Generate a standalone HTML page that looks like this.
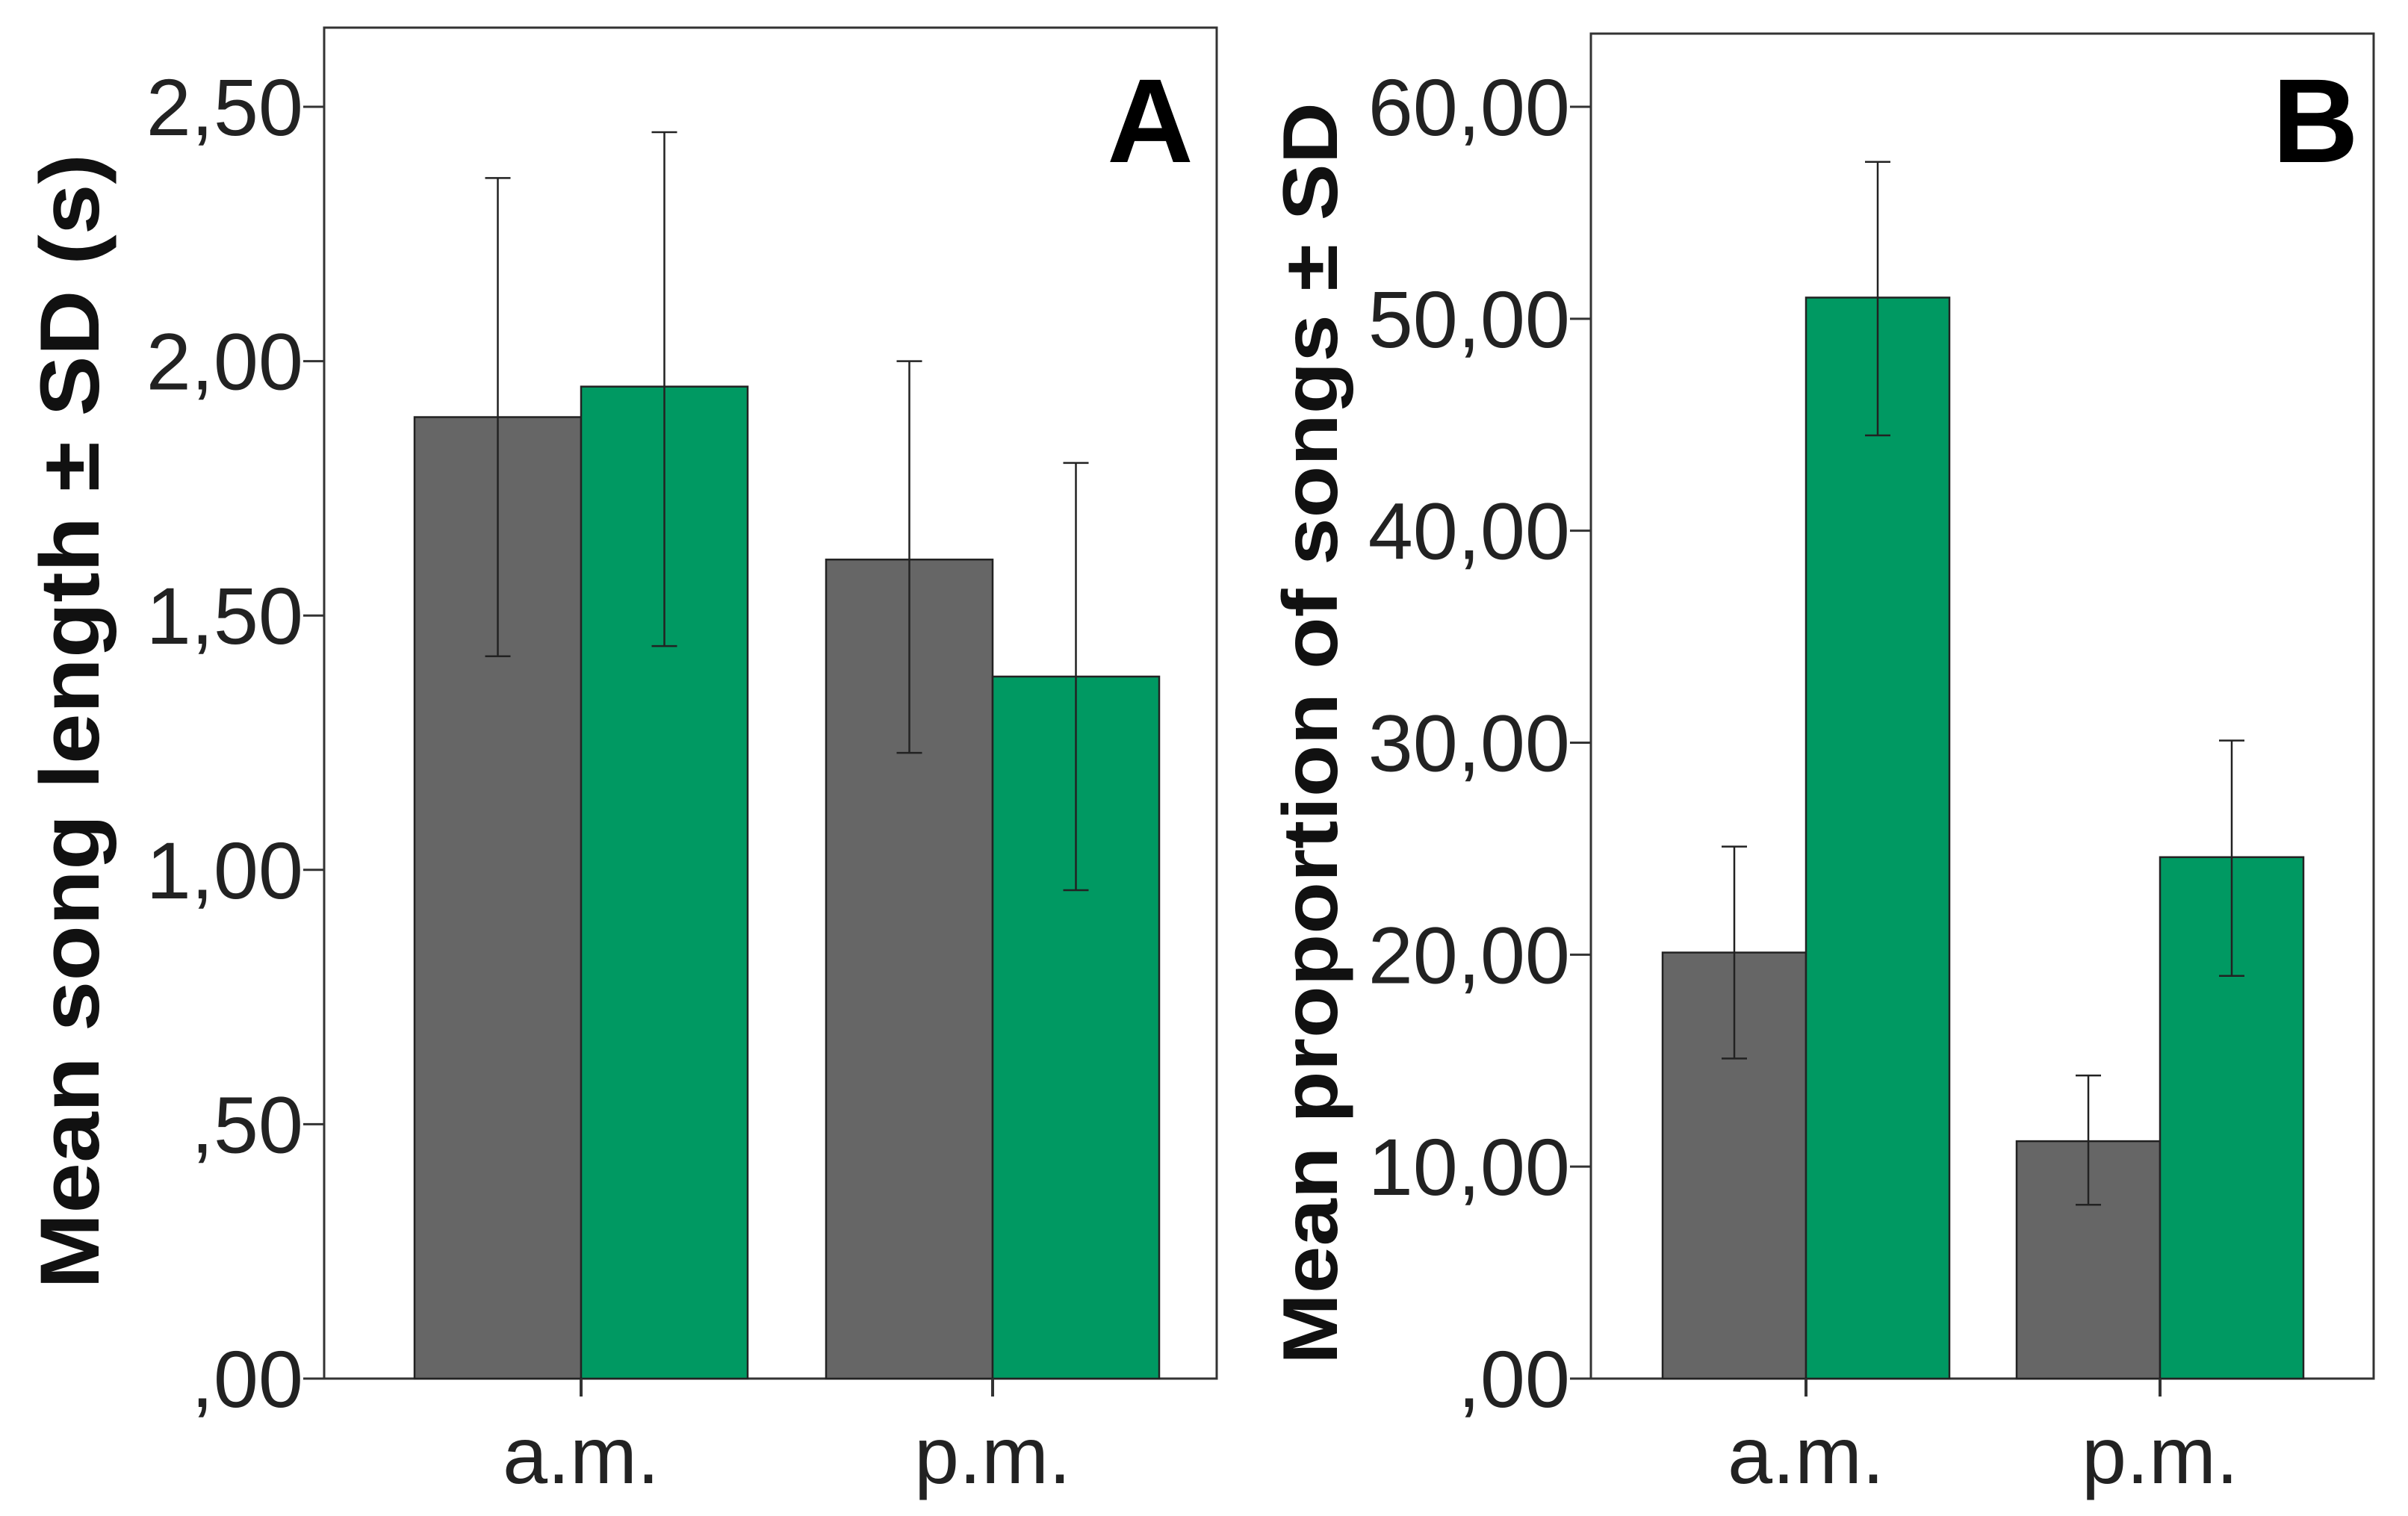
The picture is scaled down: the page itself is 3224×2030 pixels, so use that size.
<!DOCTYPE html>
<html><head><meta charset="utf-8"><style>
html,body{margin:0;padding:0;background:#fff}
svg{display:block}
text{font-family:"Liberation Sans",Arial,sans-serif}
</style></head><body>
<svg id="chart" width="3224" height="2030" viewBox="0 0 3224 2030" xmlns="http://www.w3.org/2000/svg">
<g id="pa"></g>
<g id="pb"></g>
</svg>
<script>
const categories = ["a.m.", "p.m."];
// Panel A: mean song length
const aGrey = [1.89, 1.61];
const aGreyErrHi = [2.36, 2.00];
const aGreyErrLo = [1.42, 1.23];
const aGreen = [1.95, 1.38];
const aGreenErrHi = [2.45, 1.80];
const aGreenErrLo = [1.44, 0.96];
const aTicks = [0, 0.5, 1, 1.5, 2, 2.5];
const aTickLabels = [",00", ",50", "1,00", "1,50", "2,00", "2,50"];
// Panel B: proportion of songs
const bGrey = [20.1, 11.2];
const bGreyErrHi = [25.1, 14.3];
const bGreyErrLo = [15.1, 8.2];
const bGreen = [51.0, 24.6];
const bGreenErrHi = [57.4, 30.1];
const bGreenErrLo = [44.5, 19.0];
const bTicks = [0, 10, 20, 30, 40, 50, 60];
const bTickLabels = [",00", "10,00", "20,00", "30,00", "40,00", "50,00", "60,00"];

const NS = "http://www.w3.org/2000/svg";
function mk(parent, tag, attrs, txt) {
  const e = document.createElementNS(NS, tag);
  for (const k in attrs) e.setAttribute(k, attrs[k]);
  if (txt !== undefined) e.textContent = txt;
  parent.appendChild(e);
  return e;
}

function drawPanel(g, cfg) {
  const y = v => cfg.y0 - (v / cfg.vmax) * (cfg.y0 - cfg.yTop);
  const f = mk(g, "rect", {x: cfg.left, y: cfg.top, width: cfg.right - cfg.left, height: cfg.y0 - cfg.top, fill: "none", stroke: "#333", "stroke-width": 3});
  
  
  cfg.ticks.forEach((t, i) => {
    const ln = mk(g, "line", {x1: cfg.left - 28, x2: cfg.left, y1: y(t), y2: y(t), stroke: "#333", "stroke-width": 3});
    
    
    const tx = mk(g, "text", {x: cfg.left - 28, y: y(t) + 38, "text-anchor": "end", "font-size": 108, fill: "#222"}, cfg.tickLabels[i]);
    
    
  });
  const n = categories.length;
  for (let i = 0; i < n; i++) {
    const cx = cfg.catX[i];
    const series = [
      {v: cfg.grey[i], hi: cfg.greyHi[i], lo: cfg.greyLo[i], x: cx - cfg.bw, fill: "#666666", name: "bar-grey-" + categories[i]},
      {v: cfg.green[i], hi: cfg.greenHi[i], lo: cfg.greenLo[i], x: cx, fill: "#009962", name: "bar-green-" + categories[i]}
    ];
    series.forEach(s => {
      const r = mk(g, "rect", {x: s.x, y: y(s.v), width: cfg.bw, height: cfg.y0 - y(s.v), fill: s.fill, stroke: "#222", "stroke-width": 2.5});
      
      
      const ex = s.x + cfg.bw / 2;
      const eg = mk(g, "g", {stroke: "#222", "stroke-width": 2.5});
      
      
      mk(eg, "line", {x1: ex, x2: ex, y1: y(s.hi), y2: y(s.lo)});
      mk(eg, "line", {x1: ex - 17, x2: ex + 17, y1: y(s.hi), y2: y(s.hi)});
      mk(eg, "line", {x1: ex - 17, x2: ex + 17, y1: y(s.lo), y2: y(s.lo)});
    });
    const ct = mk(g, "line", {x1: cx, x2: cx, y1: cfg.y0, y2: cfg.y0 + 24, stroke: "#333", "stroke-width": 4});
    
    
    const cl = mk(g, "text", {x: cx, y: cfg.y0 + 140, "text-anchor": "middle", "font-size": 108, fill: "#222"}, categories[i]);
    
    
  }
  const yl = mk(g, "text", {x: 0, y: 0, "text-anchor": "middle", "font-size": cfg.ylSize, "font-weight": "bold", fill: "#111",
    transform: `translate(${cfg.ylx},${cfg.yly}) rotate(-90)`, textLength: cfg.ylLen, lengthAdjust: "spacingAndGlyphs"}, cfg.ylabel);
  
  
  const pl = mk(g, "text", {x: cfg.letterX, y: 217, "text-anchor": "middle", "font-size": 160, "font-weight": "bold", fill: "#000"}, cfg.letter);
  
  
}

drawPanel(document.getElementById("pa"), {
  left: 434, right: 1629, top: 37, y0: 1846, yTop: 143, vmax: 2.5,
  ticks: aTicks, tickLabels: aTickLabels, catX: [778, 1329], bw: 223,
  grey: aGrey, greyHi: aGreyErrHi, greyLo: aGreyErrLo,
  green: aGreen, greenHi: aGreenErrHi, greenLo: aGreenErrLo,
  ylabel: "Mean song length ± SD (s)", ylSize: 112, ylx: 132, yly: 966, ylLen: 1520,
  letter: "A", letterX: 1540
});
drawPanel(document.getElementById("pb"), {
  left: 2130, right: 3178, top: 45, y0: 1846, yTop: 143, vmax: 60,
  ticks: bTicks, tickLabels: bTickLabels, catX: [2418, 2892], bw: 192,
  grey: bGrey, greyHi: bGreyErrHi, greyLo: bGreyErrLo,
  green: bGreen, greenHi: bGreenErrHi, greenLo: bGreenErrLo,
  ylabel: "Mean proportion of songs ± SD", ylSize: 104, ylx: 1790, yly: 982, ylLen: 1690,
  letter: "B", letterX: 3100
});
</script>
</body></html>
